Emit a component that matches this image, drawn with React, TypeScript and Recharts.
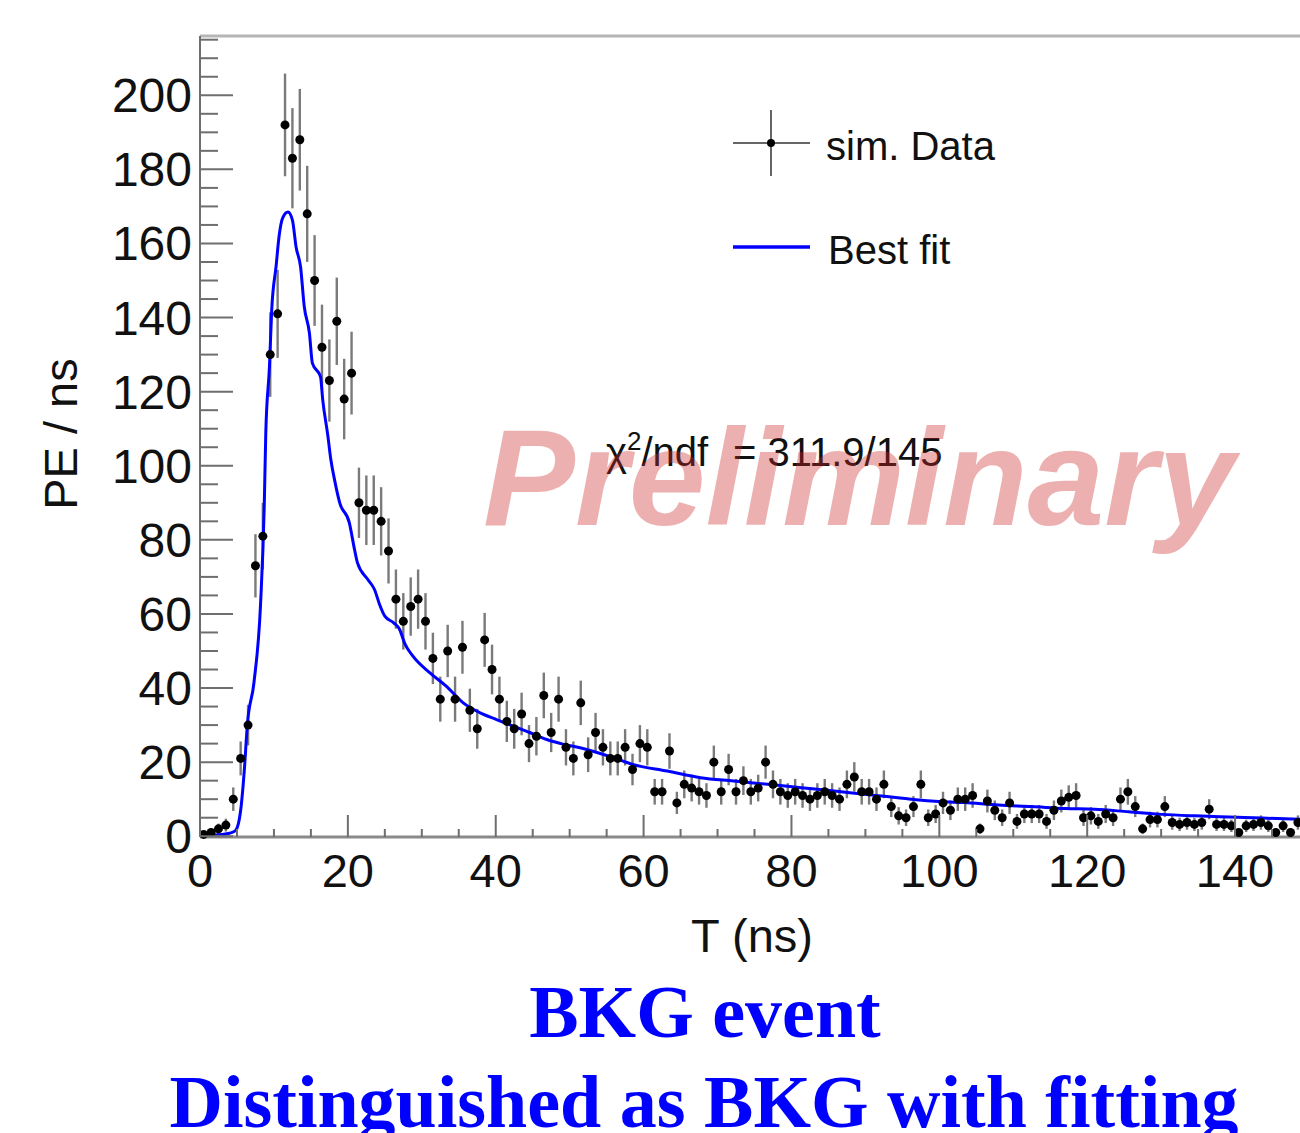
import React from 'react';
import { ComposedChart, Scatter, Line, XAxis, YAxis, ErrorBar } from 'recharts';

// Histogram content, 1 ns bins from 0 to 150 ns (PE / ns)
const BIN_WIDTH = 1;
const peValues = [
  0.5, 1, 2, 3, 10, 21, 30, 73, 81, 130,
  141, 192, 183, 188, 168, 150, 132, 123, 139, 118,
  125, 90, 88, 88, 85, 77, 64, 58, 62, 64,
  58, 48, 37, 50, 37, 51, 34, 29, 53, 45,
  37, 31, 29, 33, 25, 27, 38, 28, 37, 24,
  21, 36, 22, 28, 24, 21, 21, 24, 18, 25,
  24, 12, 12, 23, 9, 14, 13, 12, 11, 20,
  12, 18, 12, 15, 12, 13, 20, 14, 12, 11,
  12, 11, 10, 11, 12, 11, 10, 14, 16, 12,
  12, 10, 14, 8, 5.5, 5, 8, 14, 5, 6,
  9, 7, 10, 10, 11, 2, 9.5, 7, 5, 9,
  4, 6, 6, 6, 4, 7, 9.5, 10.5, 11, 5,
  5.5, 4, 6, 5, 10, 12, 8, 2, 4.5, 4.5,
  8, 3.7, 3.2, 3.7, 3.2, 3.7, 7.3, 3.2, 3.2, 2.8,
  1, 2.8, 3.2, 3.7, 2.8, 1, 2.8, 1, 3.7, 4,
];

// Best fit curve, sampled along T
const fitT = [
  0, 2, 4, 4.8, 5.5, 6, 6.4, 7.3, 8.2, 8.7, 8.9, 9.4, 9.7, 10.3, 10.7, 11.2, 11.9,
  12.5, 13, 13.6, 14.1, 14.8, 15.2, 16.3, 16.6, 17.3, 17.7, 18.2, 18.9, 20.2, 20.9,
  21.3, 22.7, 23.6, 24.3, 25, 26.2, 27, 27.7, 28.8, 31.1, 33.3, 35.6, 37.9, 40.1,
  42.4, 44.6, 46.9, 49.2, 51.4, 53.7, 55.9, 58.5, 63.2, 67.7, 72.2, 76.8, 81.3,
  85.8, 89.9, 94.4, 98.9, 103.4, 108, 112.5, 117, 121, 125.6, 130.1, 134.6, 139.2,
  143.7, 150,
];
const fitPE = [
  0.3, 0.3, 0.8, 1.5, 7, 18, 30, 41.5, 63, 90, 109, 127, 142, 154, 162, 167, 168.5,
  166.3, 159, 153.7, 143, 135.8, 127.7, 124, 117.8, 108, 101.6, 96.2, 90, 84.6, 77.4,
  73.8, 69.3, 66.6, 62.5, 59.4, 57.6, 55.8, 52, 48.6, 44.1, 40.5, 36, 33.3, 31.5,
  29.7, 28, 26.1, 24.8, 23.9, 22.6, 21.2, 19.4, 17.6, 15.8, 14.9, 14, 13.1,
  12.2, 11.3, 10.4, 9.5, 9.1, 8.4, 8, 7.5, 7.3, 6.6, 5.9, 5.5, 5.2,
  4.9, 4.5,
];

const xTicks = Array.from({ length: 31 }, (_, i) => i * 5); // 0..150
const yTicks = Array.from({ length: 44 }, (_, i) => i * 5); // 0..215

// bin centres; error = Poisson sqrt(N) as drawn by ROOT
const points = peValues.map((pe, i) => ({ t: (i + 0.5) * BIN_WIDTH, pe, err: Math.sqrt(pe) }));
const fitData = fitT.map((t, i) => ({ t, pe: fitPE[i] }));

const FONT = '"Liberation Sans", Arial, sans-serif';
const AXIS_GREY = '#6e6e6e';

const XTick = (props: any) => {
  const { x, y, payload } = props;
  const major = payload.value % 20 === 0;
  return (
    <g>
      <line x1={x} x2={x} y1={y} y2={y - (major ? 22 : 8)} stroke={AXIS_GREY} strokeWidth={2} />
      {major && (
        <text x={x} y={y + 50} textAnchor="middle" fontFamily={FONT} fontSize={47} fill="#111">
          {payload.value}
        </text>
      )}
    </g>
  );
};

const YTick = (props: any) => {
  const { x, y, payload } = props;
  const major = payload.value % 20 === 0;
  return (
    <g>
      <line x1={x} x2={x + (major ? 33 : 18)} y1={y} y2={y} stroke={AXIS_GREY} strokeWidth={2} />
      {major && (
        <text x={x - 8} y={y + 17} textAnchor="end" fontFamily={FONT} fontSize={48} fill="#111">
          {payload.value}
        </text>
      )}
    </g>
  );
};

const Dot = (props: any) => <circle cx={props.cx} cy={props.cy} r={4.5} fill="#000" />;

export default function App() {
  return (
    <div
      style={{
        position: 'fixed', top: 0, left: 0, width: 1300, height: 1133,
        overflow: 'hidden', background: '#fff',
      }}
    >
      <ComposedChart
        width={1340}
        height={1133}
        margin={{ top: 35, right: 31, bottom: 295, left: 199 }}
      >
        <XAxis
          dataKey="t"
          type="number"
          domain={[0, 150]}
          ticks={xTicks}
          interval={0}
          height={1}
          tickSize={0}
          tickMargin={0}
          tickLine={false}
          tick={XTick}
          axisLine={{ stroke: '#8a8a8a', strokeWidth: 3 }}
        />
        <XAxis
          xAxisId="top"
          dataKey="t"
          orientation="top"
          type="number"
          domain={[0, 150]}
          height={1}
          tick={false}
          tickLine={false}
          axisLine={{ stroke: '#b5b5b5', strokeWidth: 3 }}
        />
        <YAxis
          type="number"
          domain={[0, 216]}
          ticks={yTicks}
          interval={0}
          width={1}
          tickSize={0}
          tickMargin={0}
          tickLine={false}
          tick={YTick}
          axisLine={{ stroke: AXIS_GREY, strokeWidth: 2 }}
        />
        <Scatter data={points} dataKey="pe" shape={Dot} isAnimationActive={false}>
          <ErrorBar dataKey="err" direction="y" width={0} stroke="#7a7a7a" strokeWidth={2.4} />
        </Scatter>
        <Line
          data={fitData}
          dataKey="pe"
          type="monotone"
          stroke="#0000ff"
          strokeWidth={3}
          dot={false}
          isAnimationActive={false}
        />
      </ComposedChart>

      {/* titles, legend, fit result, watermark and captions */}
      <svg
        width={1300}
        height={1133}
        style={{ position: 'absolute', top: 0, left: 0, pointerEvents: 'none' }}
        fontFamily={FONT}
      >
        <text transform="translate(77,434) rotate(-90)" textAnchor="middle" fontSize={47} fill="#111">
          PE / ns
        </text>
        <text x={752} y={952} textAnchor="middle" fontSize={47} fill="#111">
          T (ns)
        </text>

        {/* legend */}
        <line x1={733} x2={810} y1={143} y2={143} stroke="#666" strokeWidth={2} />
        <line x1={771} x2={771} y1={110} y2={176} stroke="#666" strokeWidth={2} />
        <circle cx={771} cy={143} r={4} fill="#000" />
        <text x={826} y={160} fontSize={40} fill="#111">sim. Data</text>
        <line x1={733} x2={810} y1={247} y2={247} stroke="#0000ff" strokeWidth={3.5} />
        <text x={828} y={264} fontSize={40} fill="#111">Best fit</text>

        {/* fit result */}
        <text x={606} y={466} fontSize={40} fill="#111">
          χ<tspan dy={-16} fontSize={26}>2</tspan>
          <tspan dy={16}>/ndf</tspan>
        </text>
        <text x={733} y={466} fontSize={40} fill="#111">= 311.9/145</text>

        <text
          x={483}
          y={525}
          fontSize={138}
          fontWeight="bold"
          fontStyle="italic"
          fill="rgba(205,40,40,0.37)"
        >
          Preliminary
        </text>

        <text
          x={705}
          y={1037}
          textAnchor="middle"
          fontFamily='"Liberation Serif", "Times New Roman", serif'
          fontWeight="bold"
          fontSize={74}
          fill="#0000ff"
        >
          BKG event
        </text>
        <text
          x={704}
          y={1127}
          textAnchor="middle"
          fontFamily='"Liberation Serif", "Times New Roman", serif'
          fontWeight="bold"
          fontSize={74}
          fill="#0000ff"
        >
          Distinguished as BKG with fitting
        </text>
      </svg>
    </div>
  );
}
